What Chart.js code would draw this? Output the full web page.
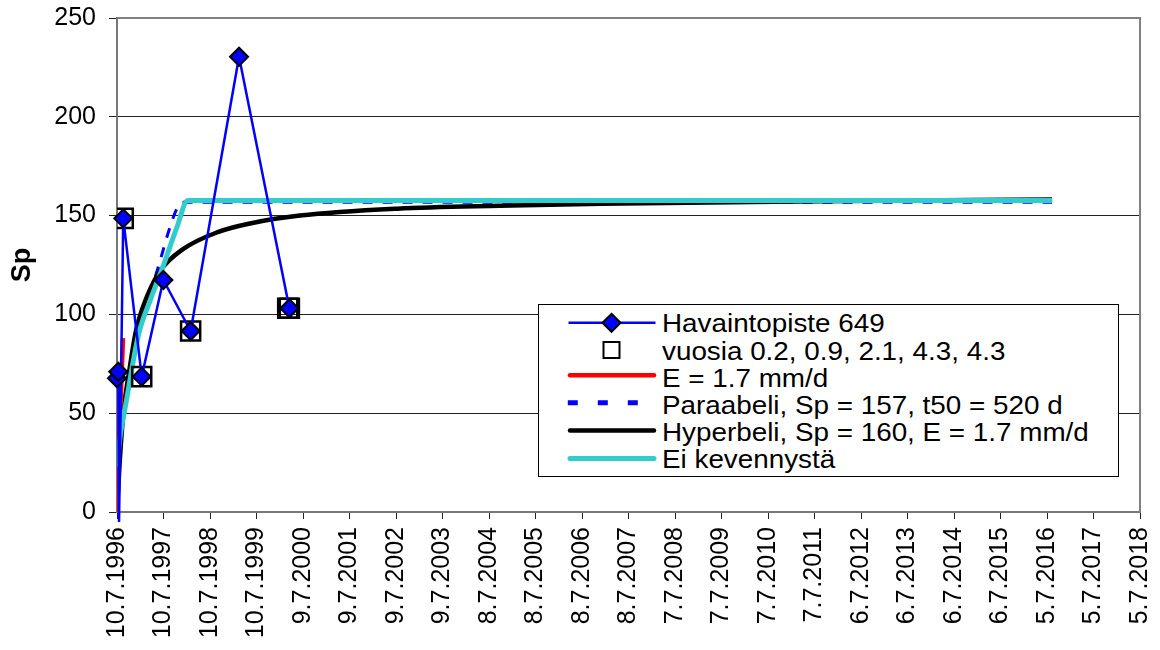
<!DOCTYPE html>
<html>
<head>
<meta charset="utf-8">
<script src="https://cdn.jsdelivr.net/npm/chart.js@4/dist/chart.umd.min.js"></script>
<style>
  body { margin: 0; background: #fff; }
  #wrap { position: relative; width: 1160px; height: 650px; }
  #chart { position: absolute; left: 0; top: 0; }
  #legend {
    position: absolute; left: 538px; top: 304px; width: 581px; height: 173px;
    box-sizing: border-box; border: 1.5px solid #000; background: #fff;
    font-family: "Liberation Sans", Arial, sans-serif; font-size: 26px; color: #000;
  }
  #legend svg { position: absolute; left: 0; top: 0; }
  #legend .rows { position: absolute; left: 122.5px; top: 5.3px; line-height: 27.2px; white-space: nowrap; }
  #legend .rows span { display: inline-block; transform: scaleX(1.07); transform-origin: left center; }
</style>
</head>
<body>
<div id="wrap">
  <canvas id="chart" width="1160" height="650"></canvas>
  <div id="legend">
    <svg width="578" height="170">
      <line x1="29.5" y1="17.8" x2="116.5" y2="17.8" stroke="#0000ff" stroke-width="2.5"/>
      <polygon points="72.5,8.8 81.5,17.8 72.5,26.8 63.5,17.8" fill="#0000ff" stroke="#000" stroke-width="2"/>
      <rect x="64.5" y="37" width="16" height="16" fill="none" stroke="#000" stroke-width="2"/>
      <line x1="31" y1="70.2" x2="115" y2="70.2" stroke="#ff0000" stroke-width="4.5" stroke-linecap="round"/>
      <line x1="28.8" y1="97.8" x2="101" y2="97.8" stroke="#0000ff" stroke-width="5" stroke-dasharray="10 20"/>
      <line x1="31" y1="125.5" x2="115" y2="125.5" stroke="#000" stroke-width="4.5" stroke-linecap="round"/>
      <line x1="31" y1="153.5" x2="115" y2="153.5" stroke="#33cccc" stroke-width="5" stroke-linecap="round"/>
    </svg>
    <div class="rows">
      <span>Havaintopiste 649</span><br>
      <span>vuosia 0.2, 0.9, 2.1, 4.3, 4.3</span><br>
      <span>E = 1.7 mm/d</span><br>
      <span>Paraabeli, Sp = 157, t50 = 520 d</span><br>
      <span>Hyperbeli, Sp = 160, E = 1.7 mm/d</span><br>
      <span>Ei kevennystä</span>
    </div>
  </div>
</div>
<script>
// x axis: days counted from 10.7.1996, ticks every 365 days
const startDate = Date.UTC(1996, 6, 10);
const xTickStep = 365;
const xMaxDay = 8030;
const yMax = 250;
const yStep = 50;

// Havaintopiste 649 (observations)
const obsDays = [0, 10, 16, 49, 194, 364, 578, 958, 1353];
const obsSp = [67.7, 71, -5, 148.6, 68.5, 117.4, 91.6, 230.4, 103.1];

// squares: vuosia 0.2, 0.9, 2.1, 4.3, 4.3
const yearDays = [49, 194, 578, 1340, 1353];
const yearSp = [148.6, 68.5, 91.6, 103.1, 103.1];

// E = 1.7 mm/d
const eDays = [0, 25, 47];
const eSp = [0, 50, 88];

// Paraabeli, Sp = 157, t50 = 520 d
const paraDays = [0, 15, 50, 100, 165, 243, 324, 420, 470, 510, 7340];
const paraSp = [0, 27, 50, 70, 90, 107, 124, 145, 153.5, 156.8, 156.8];

// Hyperbeli, Sp = 160, E = 1.7 mm/d
const hyperDays = [0, 20, 50, 100, 150, 235, 338, 518, 785, 1044, 1436, 2200, 3000, 3800, 5500, 7340];
const hyperSp = [0, 24, 50, 73, 92, 109, 122, 133, 141.5, 146, 150, 153.5, 155, 156, 157.3, 158.2];

// Ei kevennystä
const plainDays = [0, 20, 70, 170, 260, 360, 470, 555, 7340];
const plainSp = [23, 36, 55, 90, 107, 124, 144, 157.7, 157.7];

function pts(xs, ys) {
  return xs.map((x, i) => ({ x: x, y: ys[i] }));
}

function dayLabel(v) {
  const d = new Date(startDate + v * 86400000);
  return d.getUTCDate() + "." + (d.getUTCMonth() + 1) + "." + d.getUTCFullYear();
}

const tickFont = { family: "'Liberation Sans', Arial, sans-serif", size: 25 };

// gray frame on top and right of the plot area
const frame = {
  id: "frame",
  beforeDatasetsDraw(chart) {
    const a = chart.chartArea;
    const ctx = chart.ctx;
    ctx.save();
    ctx.strokeStyle = "#808080";
    ctx.lineWidth = 2;
    ctx.beginPath();
    ctx.moveTo(a.left, a.top);
    ctx.lineTo(a.right, a.top);
    ctx.lineTo(a.right, a.bottom);
    ctx.stroke();
    ctx.restore();
  }
};

new Chart(document.getElementById("chart"), {
  type: "scatter",
  data: {
    datasets: [
      {
        label: "Havaintopiste 649",
        data: pts(obsDays, obsSp),
        showLine: true,
        borderColor: "#0000ff",
        borderWidth: 2.5,
        pointStyle: "rectRot",
        pointRadius: ctx => (obsSp[ctx.dataIndex] < 0 ? 0 : 9),
        pointBackgroundColor: "#0000ff",
        pointBorderColor: "#000",
        pointBorderWidth: 2,
        clip: false,
        order: 0
      },
      {
        label: "vuosia 0.2, 0.9, 2.1, 4.3, 4.3",
        data: pts(yearDays, yearSp),
        showLine: false,
        pointStyle: "rect",
        pointRadius: 13.5,
        pointBackgroundColor: "rgba(0,0,0,0)",
        pointBorderColor: "#000",
        pointBorderWidth: 2.5,
        order: 1
      },
      {
        label: "Ei kevennystä",
        data: pts(plainDays, plainSp),
        showLine: true,
        borderColor: "#33cccc",
        borderWidth: 5,
        cubicInterpolationMode: "monotone",
        pointRadius: 0,
        order: 2
      },
      {
        label: "E = 1.7 mm/d",
        data: pts(eDays, eSp),
        showLine: true,
        borderColor: "#ff0000",
        borderWidth: 4.5,
        pointRadius: 0,
        order: 3
      },
      {
        label: "Hyperbeli, Sp = 160, E = 1.7 mm/d",
        data: pts(hyperDays, hyperSp),
        showLine: true,
        borderColor: "#000",
        borderWidth: 4.5,
        cubicInterpolationMode: "monotone",
        pointRadius: 0,
        order: 4
      },
      {
        label: "Paraabeli, Sp = 157, t50 = 520 d",
        data: pts(paraDays, paraSp),
        showLine: true,
        borderColor: "#0000ff",
        borderWidth: 3,
        borderDash: [10, 10],
        cubicInterpolationMode: "monotone",
        pointRadius: 0,
        order: 5
      }
    ]
  },
  options: {
    responsive: false,
    animation: false,
    devicePixelRatio: 1,
    layout: { padding: { top: 18, right: 20, left: 0, bottom: 0 } },
    plugins: { legend: { display: false }, tooltip: { enabled: false } },
    scales: {
      x: {
        type: "linear",
        min: 0,
        max: xMaxDay,
        afterFit(scale) {
          scale.height = 138;
          scale.paddingLeft = 0;
          scale.paddingRight = 0;
        },
        ticks: {
          stepSize: xTickStep,
          maxTicksLimit: 100,
          autoSkip: false,
          minRotation: 90,
          maxRotation: 90,
          padding: 8,
          color: "#000",
          font: tickFont,
          callback: v => dayLabel(v)
        },
        grid: { drawOnChartArea: false, drawTicks: true, tickLength: 7, color: "#222", lineWidth: 1 },
        border: { color: "#777", width: 2 }
      },
      y: {
        min: 0,
        max: yMax,
        afterFit(scale) {
          scale.width = 117;
          scale.paddingTop = 0;
          scale.paddingBottom = 0;
        },
        ticks: { stepSize: yStep, padding: 13, color: "#000", font: tickFont },
        grid: { color: "#222", lineWidth: 1, tickLength: 8 },
        border: { color: "#777", width: 2 },
        title: {
          display: true,
          text: "Sp",
          color: "#000",
          font: { family: "'Liberation Sans', Arial, sans-serif", size: 27, weight: "bold" },
          padding: { top: 6, bottom: 0 }
        }
      }
    }
  },
  plugins: [frame]
});
</script>
</body>
</html>
